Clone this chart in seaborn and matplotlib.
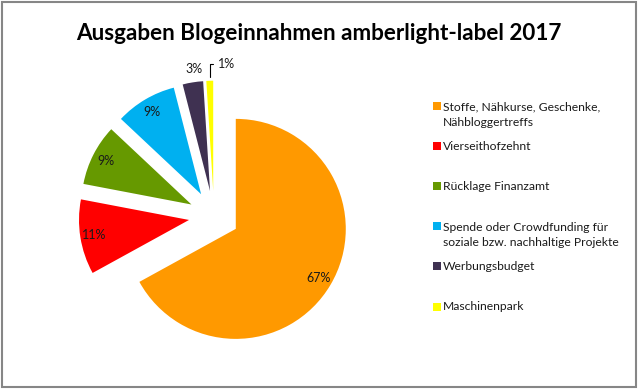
import numpy as np
import matplotlib
matplotlib.use("Agg")
import matplotlib.pyplot as plt
from matplotlib.patches import Rectangle
import seaborn as sns

# data
categories = [
    "Stoffe, Nähkurse, Geschenke,\nNähbloggertreffs",
    "Vierseithofzehnt",
    "Rücklage Finanzamt",
    "Spende oder Crowdfunding für\nsoziale bzw. nachhaltige Projekte",
    "Werbungsbudget",
    "Maschinenpark",
]
shares = [67, 11, 9, 9, 3, 1]
colors = ["#FF9900", "#FF0000", "#669900", "#00B0F0", "#3F3151", "#FFFF00"]
title = "Ausgaben Blogeinnahmen amberlight-label 2017"

sns.set_theme(style="white")
plt.rcParams["font.family"] = ["Lato", "DejaVu Sans"]

W, H = 638, 389
fig = plt.figure(figsize=(W / 100, H / 100), dpi=100)

# pie axes: 110 px per data unit, centre at (214, 216) px from top-left
ax = fig.add_axes([49 / W, 8 / H, 330 / W, 330 / H])
wedges, texts, autotexts = ax.pie(
    shares,
    colors=sns.color_palette(colors),
    startangle=90,
    counterclock=False,
    explode=[0.23] * len(shares),
    autopct="%1.0f%%",
    pctdistance=0.87,
    wedgeprops=dict(linewidth=0),
    textprops=dict(fontsize=9, color="#1a1a1a"),
)
ax.set_xlim(-1.5, 1.5)
ax.set_ylim(-1.5, 1.5)
ax.set_aspect("equal")
ax.axis("off")

# small slices: labels outside
w = wedges[4]
ang = np.deg2rad((w.theta1 + w.theta2) / 2)
cx, cy = w.center
autotexts[4].set_position((cx + 1.12 * np.cos(ang) + 0.03, cy + 1.12 * np.sin(ang)))

w = wedges[5]
ang = np.deg2rad((w.theta1 + w.theta2) / 2)
cx, cy = w.center
autotexts[5].set_visible(False)
tip = (cx + 0.99 * np.cos(ang), cy + 1.03 * np.sin(ang))
ax.annotate(
    "1%", xy=tip, xytext=(tip[0] + 0.07, tip[1] + 0.12),
    fontsize=9, color="#1a1a1a", ha="left", va="center",
    arrowprops=dict(arrowstyle="-", color="black", lw=0.8,
                    connectionstyle="angle,angleA=0,angleB=90,rad=0",
                    shrinkA=1, shrinkB=0),
)

# title
fig.text(0.5, 1 - 33 / H, title, ha="center", va="center",
         fontsize=16.2, fontweight="bold", color="black")

# legend, one slot every ~40 px, marker on the first line
line_px = 16
for i, (lab, col) in enumerate(zip(categories, colors)):
    base = 110 + i * 40.1
    nlines = lab.count("\n")
    fig.add_artist(Rectangle((433 / W, 1 - base / H), 8 / W, 8 / H,
                             transform=fig.transFigure, color=col, lw=0))
    # baseline alignment refers to the last line of a multi-line text
    fig.text(443 / W, 1 - (base + nlines * line_px) / H, lab, ha="left",
             va="baseline", fontsize=8.7, linespacing=1.5, color="#1a1a1a")

# chart border
fig.add_artist(Rectangle((1.5 / W, 2.5 / H), 634.5 / W, 385 / H,
                         transform=fig.transFigure, fill=False,
                         ec="#868686", lw=1.5))

fig.savefig("out.png", dpi=100)
